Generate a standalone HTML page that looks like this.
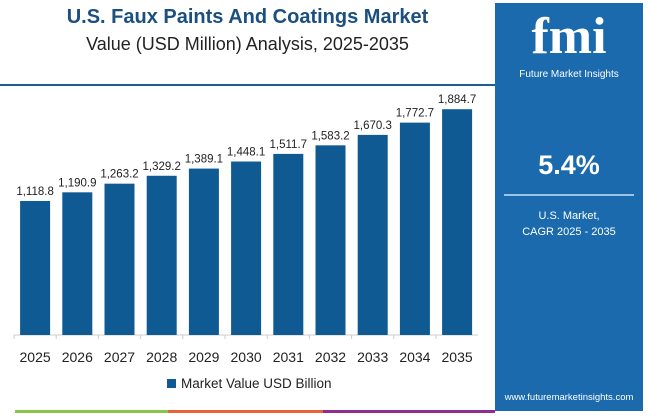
<!DOCTYPE html>
<html><head><meta charset="utf-8"><style>
body{margin:0;width:650px;height:416px;background:#fff;font-family:"Liberation Sans",sans-serif;overflow:hidden;position:relative}
.t{position:absolute;left:0;width:495px;text-align:center;color:#222}
</style></head><body>
<div class="t" style="top:6px;font-size:20px;font-weight:bold;color:#1a4f80">U.S. Faux Paints And Coatings Market</div>
<div class="t" style="top:34px;font-size:18px">Value (USD Million) Analysis, 2025-2035</div>
<div style="position:absolute;left:0;top:84px;width:497px;height:2px;background:#1a5f96"></div>
<div style="position:absolute;left:495px;top:3px;width:148px;height:408px;background:#1a6aad;color:#fff;text-align:center">
  <div style="font-size:52px;font-weight:bold;font-family:'Liberation Serif',serif;margin-top:8px;line-height:52px">fmi</div>
  <div style="font-size:10px;margin-top:6px">Future Market Insights</div>
  <div style="font-size:27px;font-weight:bold;margin-top:70px">5.4%</div>
  <div style="margin:13px auto 0;width:130px;height:2px;background:#9cc4e6"></div>
  <div style="font-size:11px;margin-top:12px;line-height:16px">U.S. Market,<br>CAGR 2025 - 2035</div>
  <div style="position:absolute;bottom:8px;width:100%;font-size:9.5px">www.futuremarketinsights.com</div>
</div>
<div style="position:absolute;left:15px;top:410px;width:153px;height:3px;background:#8bc34a"></div>
<div style="position:absolute;left:168px;top:410px;width:155px;height:3px;background:#e8633a"></div>
<div style="position:absolute;left:323px;top:410px;width:172px;height:3px;background:#8e2c91"></div>
<svg id="c" width="495" height="416" style="position:absolute;left:0;top:0"></svg>
<script>
const years=["2025","2026","2027","2028","2029","2030","2031","2032","2033","2034","2035"];
const values=[1118.8,1190.9,1263.2,1329.2,1389.1,1448.1,1511.7,1583.2,1670.3,1772.7,1884.7];
const labels=["1,118.8","1,190.9","1,263.2","1,329.2","1,389.1","1,448.1","1,511.7","1,583.2","1,670.3","1,772.7","1,884.7"];
const svg=document.getElementById('c');const NS='http://www.w3.org/2000/svg';
const base=335,scale=0.1198,x0=14,step=42.2,bw=30;
const xs=i=>x0+i*step, ys=v=>base-v*scale;
function mk(t,a,p){const e=document.createElementNS(NS,t);for(const k in a)e.setAttribute(k,a[k]);(p||svg).appendChild(e);return e;}
const ax=mk('line',{x1:14,x2:478,y1:base,y2:base,stroke:'#ccc'});


years.forEach((y,i)=>{
  const cx=xs(i)+step/2;
  const b=mk('rect',{x:cx-bw/2,y:ys(values[i]),width:bw,height:values[i]*scale,fill:'#0f5a92'});
  
  
  const l=mk('text',{x:cx,y:ys(values[i])-6,'text-anchor':'middle','font-size':'11.5',fill:'#222'});
  l.textContent=labels[i];
  
  
  const t=mk('text',{x:cx,y:362,'text-anchor':'middle','font-size':'14',fill:'#222'});
  t.textContent=y;
  
  
  const tk=mk('line',{x1:xs(i),x2:xs(i),y1:base,y2:base+4,stroke:'#ccc'});
  
  
});
const lg=mk('rect',{x:167,y:379,width:9,height:9,fill:'#0f5a92'});


const lt=mk('text',{x:181,y:388,'font-size':'13.5',fill:'#222'});
lt.textContent='Market Value USD Billion';


</script>
</body></html>
